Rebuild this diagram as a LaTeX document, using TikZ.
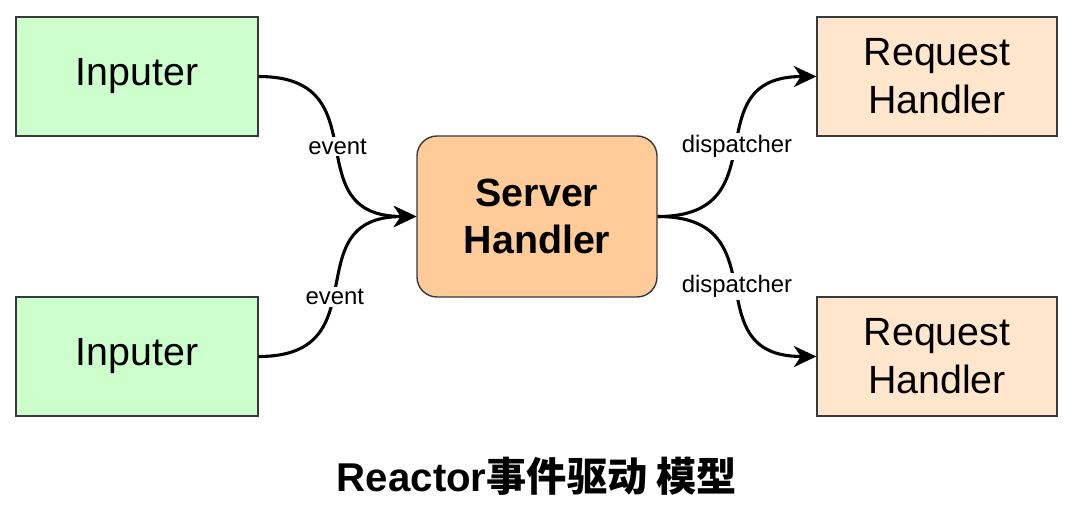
\documentclass[tikz,border=0pt]{standalone}
\usepackage{fontspec}
\setmainfont{Liberation Sans}
\newfontfamily\cjkfont{Noto Sans CJK SC}
\usetikzlibrary{positioning, arrows.meta, calc}

\definecolor{inputgreen}{HTML}{CCFFCC}
\definecolor{serverorange}{HTML}{FFCC99}
\definecolor{requestpeach}{HTML}{FFE6CC}
\definecolor{borderdark}{HTML}{36393D}

\begin{document}
\begin{tikzpicture}[
    >={Stealth[length=16pt, width=15pt, inset=5pt]},
    node distance=7cm and 10cm,
    on grid,
    box/.style={draw=borderdark, line width=1pt, align=center, inner sep=0pt,
        font=\fontsize{28}{34}\selectfont},
    inbox/.style={box, fill=inputgreen, minimum width=6.05cm, minimum height=2.975cm},
    srvbox/.style={box, fill=serverorange, rounded corners=0.5cm, minimum width=6cm,
        minimum height=4.025cm, font=\fontsize{28}{34}\selectfont\bfseries},
    reqbox/.style={box, fill=requestpeach, minimum width=6cm, minimum height=2.975cm},
    link/.style={->, line width=2.2pt, black},
    tag/.style={fill=white, inner sep=1.5pt, font=\fontsize{17}{20}\selectfont}
]
\useasboundingbox (0,0) rectangle (26.85,-12.95);

% -------------------------
% NODES
% -------------------------
\node[inbox] (in1) at (3.425,-1.9125) {Inputer};
\node[inbox, below=of in1] (in2) {Inputer};

\node[srvbox, right=of in1, yshift=-3.5cm] (srv) {Server\\ Handler};

\node[reqbox, right=of srv, yshift=3.5cm] (req1) {Request\\ Handler};
\node[reqbox, right=of srv, yshift=-3.5cm] (req2) {Request\\ Handler};

\node[below=6.49cm of srv, font=\fontsize{28.6}{34}\selectfont\bfseries] (title)
    {Reactor{\cjkfont 事件驱动 模型}};

% -------------------------
% CONNECTORS
% -------------------------
\draw[link] (in1.east) to[out=0, in=180, looseness=1.5] node[tag] {event} (srv.west);
\draw[link] (in2.east) to[out=0, in=180, looseness=1.5] node[tag, pos=0.45] {event} (srv.west);

\draw[link] (srv.east) to[out=0, in=180, looseness=1.5] node[tag] {dispatcher} (req1.west);
\draw[link] (srv.east) to[out=0, in=180, looseness=1.5] node[tag] {dispatcher} (req2.west);

\end{tikzpicture}
\end{document}
